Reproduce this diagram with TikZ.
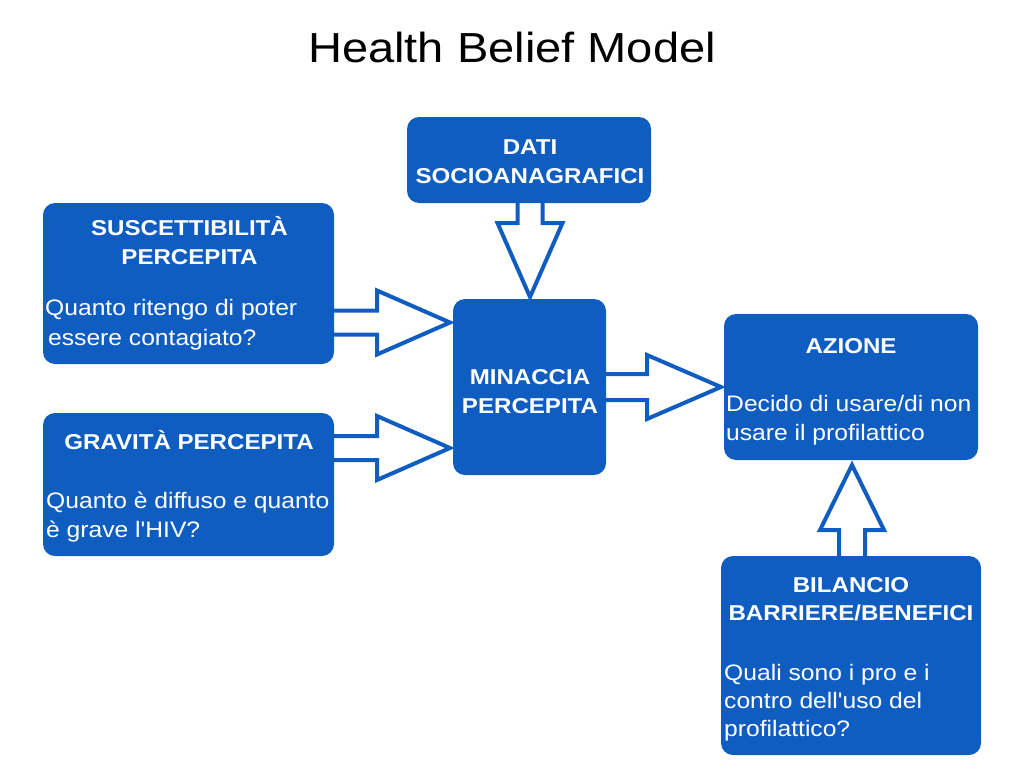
\documentclass[tikz,border=0pt]{standalone}
\usepackage{fontspec}
\newfontfamily\hbmfont[FakeStretch=1.12]{Liberation Sans}
\newfontfamily\hbmbodyfont[FakeStretch=1.1]{Liberation Sans}
\definecolor{hbmblue}{RGB}{16,93,194}
\begin{document}
\begin{tikzpicture}[x=1pt,y=-1pt,
  box/.style={fill=hbmblue, rounded corners=12pt, inner sep=0pt, outer sep=0pt},
  head/.style={text=white, inner sep=0pt, anchor=base, font=\hbmfont\bfseries\fontsize{21.5}{28.5}\selectfont},
  body/.style={text=white, inner sep=0pt, anchor=base west, font=\hbmbodyfont\fontsize{22.4}{28.5}\selectfont},
  blockarrow/.style={draw=hbmblue, line width=4pt, fill=white, line join=miter, miter limit=10}]
\useasboundingbox (0,0) rectangle (1024,768);

\node[inner sep=0pt, anchor=base, font=\hbmfont\fontsize{42}{48}\selectfont] (title) at (512,63) {Health Belief Model};

% block arrows (drawn first, boxes cover their tails)
\draw[blockarrow] (334,310.5)--(377,310.5)--(377,290.5)--(450,322.5)--(377,354.5)--(377,334.5)--(334,334.5);
\draw[blockarrow] (334,436)--(377,436)--(377,416)--(450,448)--(377,480)--(377,460)--(334,460);
\draw[blockarrow] (517.5,203)--(517.5,223)--(497.5,223)--(530,297)--(562.5,223)--(542.5,223)--(542.5,203);
\draw[blockarrow] (606,374)--(647,374)--(647,355)--(721,387)--(647,419)--(647,400)--(606,400);
\draw[blockarrow] (839,557)--(839,530)--(820,530)--(852,465)--(884,530)--(865,530)--(865,557);

% boxes
\node[box, minimum width=291pt, minimum height=161pt] (susc) at (188.5,283.5) {};
\node[box, minimum width=291pt, minimum height=143pt] (grav) at (188.5,484.5) {};
\node[box, minimum width=244pt, minimum height=86pt] (dati) at (529,160) {};
\node[box, minimum width=153pt, minimum height=176pt] (min) at (529.5,387) {};
\node[box, minimum width=254pt, minimum height=146pt] (az) at (851,387) {};
\node[box, minimum width=260pt, minimum height=199pt] (bil) at (851,655.5) {};

% texts
\node[head] (t1a) at (189.5,235) {SUSCETTIBILITÀ};
\node[head] (t1b) at (189.5,264) {PERCEPITA};
\node[body] (b1a) at (45,315) {Quanto ritengo di poter};
\node[body] (b1b) at (48,345) {essere contagiato?};

\node[head] (t2) at (189,449) {GRAVITÀ PERCEPITA};
\node[body] (b2a) at (46,508) {Quanto è diffuso e quanto};
\node[body] (b2b) at (46,537) {è grave l'HIV?};

\node[head] (t3a) at (530,154) {DATI};
\node[head] (t3b) at (530,183) {SOCIOANAGRAFICI};
\node[head] (t4a) at (530,384) {MINACCIA};
\node[head] (t4b) at (530,413) {PERCEPITA};

\node[head] (t5) at (851,353) {AZIONE};
\node[body] (b5a) at (726,411) {Decido di usare/di non};
\node[body] (b5b) at (726,440) {usare il profilattico};

\node[head] (t6a) at (851,592) {BILANCIO};
\node[head] (t6b) at (851,620) {BARRIERE/BENEFICI};
\node[body] (b6a) at (724,680) {Quali sono i pro e i};
\node[body] (b6b) at (724,708) {contro dell'uso del};
\node[body] (b6c) at (724,736) {profilattico?};
\end{tikzpicture}
\end{document}
